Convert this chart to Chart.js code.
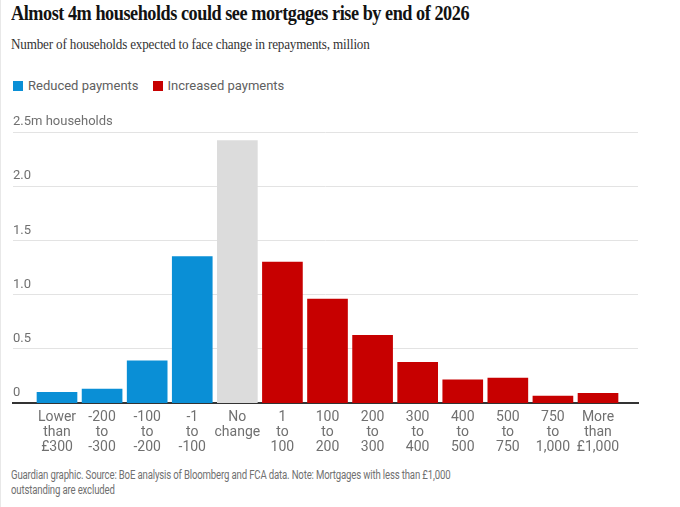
<!DOCTYPE html>
<html>
<head>
<meta charset="utf-8">
<script src="https://cdn.jsdelivr.net/npm/chart.js@4.4.1/dist/chart.umd.min.js"></script>
<style>
  html, body { margin: 0; padding: 0; background: #fff; }
  body { width: 680px; height: 507px; position: relative; overflow: hidden; border-left: 1px solid #e8e8e8; box-sizing: border-box; }
  h1 { position: absolute; left: 10px; top: 2px; margin: 0; font: bold 20px "Liberation Serif", serif; letter-spacing: -0.5px; color: #121212; white-space: nowrap; transform: scaleX(0.91); transform-origin: left center; }
  .sub { position: absolute; left: 10px; top: 35px; margin: 0; font: 15.5px "Liberation Serif", serif; letter-spacing: -0.2px; color: #333; white-space: nowrap; transform: scaleX(0.846); transform-origin: left center; }
  .legend { position: absolute; left: 12px; top: 78px; font: 13px Roboto, sans-serif; color: #606060; white-space: nowrap; }
  .legend span.box { display: inline-block; width: 10px; height: 10px; margin-right: 5px; vertical-align: -1px; }
  .legend span.item { margin-right: 14px; }
  #wrap { position: absolute; left: 0; top: 100px; width: 680px; height: 366px; }
  .foot { position: absolute; left: 10px; top: 468px; font: 12px Roboto, sans-serif; letter-spacing: -0.2px; line-height: 15px; color: #707070; white-space: nowrap; transform: scaleX(0.8); transform-origin: left top; }
</style>
</head>
<body>
<h1>Almost 4m households could see mortgages rise by end of 2026</h1>
<p class="sub">Number of households expected to face change in repayments, million</p>
<div class="legend" id="legend"></div>
<div id="wrap"><canvas id="myChart"></canvas></div>
<div class="foot">Guardian graphic. Source: BoE analysis of Bloomberg and FCA data. Note: Mortgages with less than £1,000<br>outstanding are excluded</div>
<script>
// categories (monthly change in repayments, £)
const categories = [
    ['Lower', 'than', '£300'],
    ['-200', 'to', '-300'],
    ['-100', 'to', '-200'],
    ['-1', 'to', '-100'],
    ['No', 'change'],
    ['1', 'to', '100'],
    ['100', 'to', '200'],
    ['200', 'to', '300'],
    ['300', 'to', '400'],
    ['400', 'to', '500'],
    ['500', 'to', '750'],
    ['750', 'to', '1,000'],
    ['More', 'than', '£1,000']
];

// households, million
const households = [0.10, 0.13, 0.39, 1.35, 2.42, 1.30, 0.96, 0.625, 0.375, 0.215, 0.23, 0.065, 0.09];

// which group each bar belongs to
const groups = ['reduced', 'reduced', 'reduced', 'reduced', 'none',
    'increased', 'increased', 'increased', 'increased', 'increased', 'increased', 'increased', 'increased'];

const yTicks = [0, 0.5, 1.0, 1.5, 2.0, 2.5];

const colours = {reduced: '#0a8fd6', increased: '#c70000', none: '#dcdcdc'};
const legendItems = [
    {key: 'reduced', label: 'Reduced payments'},
    {key: 'increased', label: 'Increased payments'}
];

// html legend
const legend = document.getElementById('legend');
legendItems.forEach(item => {
    const span = document.createElement('span');
    span.className = 'item';
    span.innerHTML = `<span class="box" style="background:${colours[item.key]}"></span>${item.label}`;
    legend.appendChild(span);
});

const ctx = document.getElementById('myChart').getContext('2d');

window.myChart = new Chart(ctx, {
    type: 'bar',
    data: {
        datasets: [{
            data: households.map((v, i) => ({x: i, y: v})),
            backgroundColor: groups.map(g => colours[g]),
            barThickness: 40,
            borderWidth: 0
        }]
    },
    options: {
        responsive: true,
        maintainAspectRatio: false,
        animation: false,
        layout: {padding: {left: 12, right: 43, top: 32, bottom: 4}},
        plugins: {
            legend: {display: false},
            tooltip: {enabled: false}
        },
        scales: {
            x: {
                type: 'linear',
                offset: false,
                bounds: 'data',
                min: -0.976,
                max: 12.887,
                afterBuildTicks: axis => {
                    axis.ticks = categories.map((c, i) => ({value: i}));
                },
                afterFit: axis => {
                    // labels sit well inside the plot, no extra side padding
                    axis.paddingLeft = 0;
                    axis.paddingRight = 0;
                },
                grid: {display: false, drawTicks: false, offset: false},
                border: {display: true, color: '#333', width: 2},
                ticks: {
                    autoSkip: false,
                    maxRotation: 0,
                    padding: 7,
                    color: '#707070',
                    font: {family: 'Roboto', size: 14, lineHeight: 1.07},
                    callback: value => categories[value] || ''
                }
            },
            y: {
                min: 0,
                max: 2.5,
                afterBuildTicks: axis => {
                    axis.ticks = yTicks.map(v => ({value: v}));
                },
                grid: {color: '#e3e3e3', drawTicks: false},
                border: {display: false},
                ticks: {
                    mirror: true,
                    padding: 0,
                    labelOffset: -10,
                    color: '#707070',
                    font: {family: 'Roboto', size: 13},
                    callback: value => {
                        if (value === 2.5) return '2.5m households';
                        if (value === 0) return '0';
                        return value.toFixed(1);
                    }
                }
            }
        }
    }
});
</script>
</body>
</html>
